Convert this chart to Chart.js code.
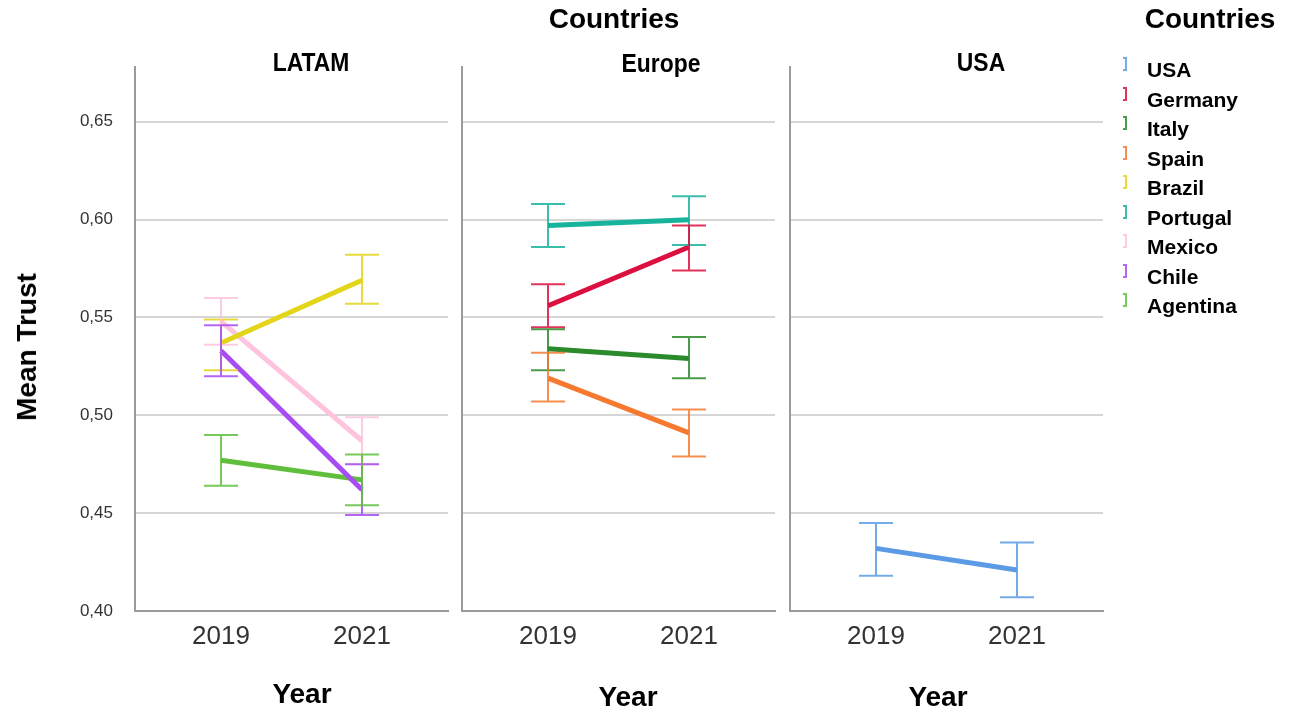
<!DOCTYPE html>
<html>
<head>
<meta charset="utf-8">
<script src="https://cdn.jsdelivr.net/npm/chart.js@4.4.1/dist/chart.umd.min.js"></script>
<style>
  html, body { margin: 0; padding: 0; background: #fff; }
  #wrap { position: relative; width: 1289px; height: 712px; overflow: hidden; font-family: "Liberation Sans", Arial, sans-serif; }
  #wrap canvas { position: absolute; left: 0; top: 0; }
  .t { position: absolute; transform: translate(-50%, -50%); white-space: nowrap; color: #000; font-weight: bold; }
  .big { font-size: 28px; }
  .panel { font-size: 26px; transform: translate(-50%, -50%) scaleX(0.88); }
  .ytitle { transform: translate(-50%, -50%) rotate(-90deg); }
  #legend { position: absolute; left: 1119px; top: 55px; }
  .item { position: relative; height: 29.5px; }
  .item .lab { position: absolute; left: 28px; top: 0; font-weight: bold; font-size: 21px; line-height: 29px; color: #000; white-space: nowrap; }
  .item .ico { position: absolute; left: 4px; top: 2px; width: 4px; height: 14px; border-top: 2px solid; border-bottom: 2px solid; border-right: 2px solid; box-sizing: border-box; }
</style>
</head>
<body>
<div id="wrap">
  <canvas id="cLatam" width="1289" height="712"></canvas>
  <canvas id="cEurope" width="1289" height="712"></canvas>
  <canvas id="cUsa" width="1289" height="712"></canvas>

  <div class="t big" style="left:614px; top:19px;">Countries</div>
  <div class="t big" style="left:1210px; top:19px;">Countries</div>
  <div class="t panel" style="left:311px; top:62px;">LATAM</div>
  <div class="t panel" style="left:661px; top:63px;">Europe</div>
  <div class="t panel" style="left:981px; top:62px;">USA</div>
  <div class="t big ytitle" style="left:27px; top:347px;">Mean Trust</div>
  <div class="t big" style="left:302px; top:694px;">Year</div>
  <div class="t big" style="left:628px; top:697px;">Year</div>
  <div class="t big" style="left:938px; top:697px;">Year</div>
  <div id="legend"></div>
</div>

<script>
// Mean trust per country and year, with the lower/upper ends of each error bar.
const countries = ['USA', 'Germany', 'Italy', 'Spain', 'Brazil', 'Portugal', 'Mexico', 'Chile', 'Agentina'];
const colors    = ['#5b9be6', '#dc1040', '#2b8a2b', '#f57a30', '#e2d51a', '#17b39c', '#fec3dd', '#a74cf2', '#5fbf3c'];

const mean2019 = [0.432, 0.556, 0.534, 0.519, 0.537, 0.597, 0.548, 0.533, 0.477];
const mean2021 = [0.421, 0.586, 0.529, 0.491, 0.569, 0.600, 0.487, 0.462, 0.467];
const low2019  = [0.418, 0.545, 0.523, 0.507, 0.523, 0.586, 0.536, 0.520, 0.464];
const high2019 = [0.445, 0.567, 0.544, 0.532, 0.549, 0.608, 0.560, 0.546, 0.490];
const low2021  = [0.407, 0.574, 0.519, 0.479, 0.557, 0.587, 0.475, 0.449, 0.454];
const high2021 = [0.435, 0.597, 0.540, 0.503, 0.582, 0.612, 0.499, 0.475, 0.480];

const years = ['2019', '2021'];
const yTicks = [0.40, 0.45, 0.50, 0.55, 0.60, 0.65];

const regions = {
  LATAM:  ['Brazil', 'Mexico', 'Chile', 'Agentina'],
  Europe: ['Portugal', 'Germany', 'Italy', 'Spain'],
  USA:    ['USA']
};

function hexA(hex, a) {
  const n = parseInt(hex.slice(1), 16);
  return `rgba(${(n >> 16) & 255},${(n >> 8) & 255},${n & 255},${a})`;
}

// Draws a vertical error bar with caps at each year for every dataset.
const errorBars = {
  id: 'errorBars',
  afterDatasetsDraw(chart) {
    const ctx = chart.ctx, xs = chart.scales.x, ys = chart.scales.y;
    chart.data.datasets.forEach(ds => {
      ctx.save();
      ctx.strokeStyle = hexA(ds.borderColor, 0.85);
      ctx.lineWidth = 2;
      ds.errLow.forEach((lo, j) => {
        const x = xs.getPixelForValue(j);
        const y1 = ys.getPixelForValue(lo), y2 = ys.getPixelForValue(ds.errHigh[j]);
        ctx.beginPath();
        ctx.moveTo(x, y1); ctx.lineTo(x, y2);
        ctx.moveTo(x - 17, y1); ctx.lineTo(x + 17, y1);
        ctx.moveTo(x - 17, y2); ctx.lineTo(x + 17, y2);
        ctx.stroke();
      });
      ctx.restore();
    });
  }
};

function makePanel(canvasId, names, left, right, showTicks) {
  const datasets = names.map(name => {
    const i = countries.indexOf(name);
    return {
      label: name,
      data: [{ x: 0, y: mean2019[i] }, { x: 1, y: mean2021[i] }],
      errLow: [low2019[i], low2021[i]],
      errHigh: [high2019[i], high2021[i]],
      borderColor: colors[i],
      borderWidth: 5,
      pointRadius: 0,
      tension: 0,
      fill: false
    };
  });
  const yWidth = showTicks ? 60 : 0;
  return new Chart(document.getElementById(canvasId), {
    type: 'line',
    data: { datasets },
    plugins: [errorBars],
    options: {
      responsive: false,
      animation: false,
      devicePixelRatio: 1,
      layout: { padding: { left: left - yWidth, right: 1289 - right, top: 67, bottom: 0 } },
      plugins: { legend: { display: false }, tooltip: { enabled: false } },
      scales: {
        x: {
          type: 'linear',
          min: -0.61, max: 1.61,
          afterBuildTicks: s => { s.ticks = years.map((_, k) => ({ value: k })); },
          afterFit: s => { s.height = 101; },
          ticks: {
            callback: v => years[v],
            font: { family: 'Liberation Sans, Arial', size: 26 },
            color: '#333', padding: 10, maxRotation: 0, autoSkip: false
          },
          grid: { display: false, drawTicks: false },
          border: { display: true, color: '#9a9a9a', width: 2 }
        },
        y: {
          min: 0.40, max: 0.678,
          afterBuildTicks: s => { s.ticks = yTicks.map(v => ({ value: v })); },
          afterFit: s => { s.width = yWidth; },
          ticks: {
            display: showTicks,
            callback: v => v.toFixed(2).replace('.', ','),
            font: { family: 'Liberation Sans, Arial', size: 17 },
            color: '#333', padding: 22
          },
          grid: {
            drawTicks: false,
            lineWidth: 2,
            color: c => (c.tick && c.tick.value <= 0.40 + 1e-9) ? 'rgba(0,0,0,0)' : '#d6d6d6'
          },
          border: { display: true, color: '#9a9a9a', width: 2 }
        }
      }
    }
  });
}

makePanel('cLatam', regions.LATAM, 135, 448, true);
makePanel('cEurope', regions.Europe, 462, 775, false);
makePanel('cUsa', regions.USA, 790, 1103, false);

// Legend list
const legend = document.getElementById('legend');
countries.forEach((name, i) => {
  const row = document.createElement('div');
  row.className = 'item';
  const ico = document.createElement('div');
  ico.className = 'ico';
  ico.style.borderColor = hexA(colors[i], 0.85);
  const lab = document.createElement('div');
  lab.className = 'lab';
  lab.textContent = name;
  row.appendChild(ico); row.appendChild(lab);
  legend.appendChild(row);
});
</script>
</body>
</html>
